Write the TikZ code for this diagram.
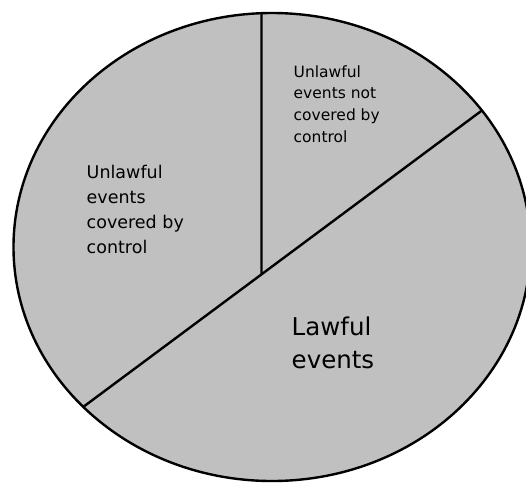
\documentclass[tikz,border=0pt]{standalone}
\usepackage{fontspec}
\setmainfont{DejaVu Sans}
\usetikzlibrary{calc}
\definecolor{piegray}{RGB}{192,192,192}
\begin{document}
\begin{tikzpicture}[x=1pt,y=-1pt,
  outline/.style={line width=2.4pt,draw=black},
  % labels are placed by the baseline of their last line
  smalltext/.style={anchor=base west,inner sep=0pt,align=left,font=\fontsize{15.5}{21.8}\selectfont},
  midtext/.style={anchor=base west,inner sep=0pt,align=left,font=\fontsize{17.5}{25}\selectfont},
  bigtext/.style={anchor=base west,inner sep=0pt,align=left,font=\fontsize{24.5}{33}\selectfont}]
  \useasboundingbox (0,0) rectangle (526,483);
  % pie body
  \coordinate (c) at (272,247);
  \fill[piegray] (c) ellipse [x radius=258.5, y radius=234];
  % dividing lines (angles measured with y pointing down)
  \coordinate (hub) at (261.5,273.5);
  \coordinate (top) at ($(c)+(-92.33:258.5 and 234)$);
  \coordinate (ur) at ($(c)+(-35.7:258.5 and 234)$);
  \coordinate (ll) at ($(c)+(136.9:258.5 and 234)$);
  \draw[outline] (hub) -- (top);
  \draw[outline] (ll) -- (ur);
  \draw[outline] (c) ellipse [x radius=258.5, y radius=234];
  % labels
  \node[smalltext] (notcov) at (293.5,142.4) {Unlawful\\events not\\covered by\\control};
  \node[midtext] (cov) at (86.5,253) {Unlawful\\events\\covered by\\control};
  \node[bigtext] (lawful) at (291.5,368) {Lawful\\events};
\end{tikzpicture}
\end{document}
